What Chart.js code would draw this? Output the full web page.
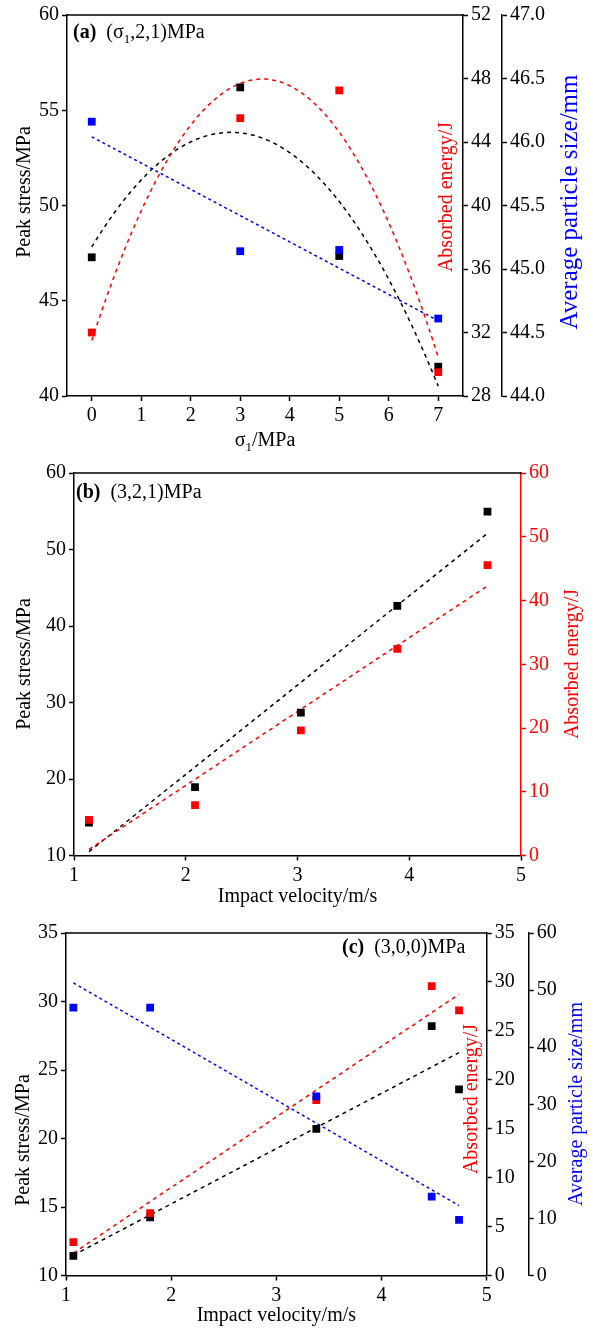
<!DOCTYPE html>
<html>
<head>
<meta charset="utf-8">
<script src="https://cdn.jsdelivr.net/npm/chart.js@4.4.1/dist/chart.umd.min.js"></script>
<style>
  html, body { margin: 0; padding: 0; background: #fff; }
  body { width: 594px; height: 1328px; position: relative; overflow: hidden; }
  canvas { position: absolute; left: 0; }
</style>
</head>
<body>
<canvas id="chartA" width="594" height="456" style="top:0"></canvas>
<canvas id="chartB" width="594" height="473" style="top:440px"></canvas>
<canvas id="chartC" width="594" height="438" style="top:890px"></canvas>
<script>
// (a) sigma1 varies, (sigma1,2,1)MPa
const sigma1 = [0, 3, 5, 7]
const stressA = [47.28, 56.2, 47.35, 41.54]
const energyA = [32.0, 45.5, 47.25, 29.5]
const sizeA = [46.16, 45.14, 45.15, 44.61]
const xTicksA = [0, 1, 2, 3, 4, 5, 6, 7]
const xRangeA = [-0.5, 7.5]
const stressTicksA = [40, 45, 50, 55, 60]
const energyTicksA = [28, 32, 36, 40, 44, 48, 52]
const sizeTicksA = [44.0, 44.5, 45.0, 45.5, 46.0, 46.5, 47.0]

// (b) (3,2,1)MPa
const velocityB = [1.134, 2.083, 3.03, 3.893, 4.70]
const stressB = [14.3, 18.93, 28.67, 42.64, 54.96]
const energyB = [5.6, 7.9, 19.64, 32.4, 45.54]
const xTicksB = [1, 2, 3, 4, 5]
const stressTicksB = [10, 20, 30, 40, 50, 60]
const energyTicksB = [0, 10, 20, 30, 40, 50, 60]

// (c) (3,0,0)MPa
const velocityC = [1.07, 1.80, 3.38, 4.477, 4.737]
const stressC = [11.44, 14.24, 20.71, 28.21, 23.58]
const energyC = [3.41, 6.38, 17.93, 29.58, 27.09]
const sizeC = [46.91, 46.91, 31.37, 13.8, 9.76]
const xTicksC = [1, 2, 3, 4, 5]
const stressTicksC = [10, 15, 20, 25, 30, 35]
const energyTicksC = [0, 5, 10, 15, 20, 25, 30, 35]
const sizeTicksC = [0, 10, 20, 30, 40, 50, 60]

const RED = '#ff0000'
const BLUE = '#0000ff'
const BLACK = '#000000'
const FAMILY = '"Liberation Serif", "Times New Roman", serif'
const UP = -Math.PI / 2

// least squares fits of the measured points
function linFit (xs, ys) {
  const n = xs.length
  const mx = xs.reduce((a, b) => a + b) / n
  const my = ys.reduce((a, b) => a + b) / n
  let sxy = 0
  let sxx = 0
  xs.forEach((x, i) => {
    sxy += (x - mx) * (ys[i] - my)
    sxx += (x - mx) ** 2
  })
  const k = sxy / sxx
  return x => my + k * (x - mx)
}

function quadFit (xs, ys) {
  const s = [0, 0, 0, 0, 0]
  const t = [0, 0, 0]
  xs.forEach((x, i) => {
    for (let p = 0; p < 5; p++) s[p] += x ** p
    for (let p = 0; p < 3; p++) t[p] += ys[i] * x ** p
  })
  const m = [
    [s[0], s[1], s[2], t[0]],
    [s[1], s[2], s[3], t[1]],
    [s[2], s[3], s[4], t[2]]
  ]
  for (let i = 0; i < 3; i++) {
    for (let j = i + 1; j < 3; j++) {
      const f = m[j][i] / m[i][i]
      for (let k = i; k < 4; k++) m[j][k] -= f * m[i][k]
    }
  }
  const c = [0, 0, 0]
  for (let i = 2; i >= 0; i--) {
    let v = m[i][3]
    for (let k = i + 1; k < 3; k++) v -= m[i][k] * c[k]
    c[i] = v / m[i][i]
  }
  return x => c[0] + c[1] * x + c[2] * x * x
}

function trend (f, xs, n) {
  const x0 = Math.min(...xs)
  const x1 = Math.max(...xs)
  const pts = []
  for (let i = 0; i <= n; i++) {
    const x = x0 + (x1 - x0) * i / n
    pts.push({ x, y: f(x) })
  }
  return pts
}

const toPts = (xs, ys) => xs.map((x, i) => ({ x, y: ys[i] }))

function points (xs, ys, color, axis, order) {
  return {
    data: toPts(xs, ys),
    yAxisID: axis,
    backgroundColor: color,
    borderWidth: 0,
    pointStyle: 'rect',
    pointRadius: 5.5,
    order
  }
}

function fitLine (pts, color, axis, dash) {
  return {
    data: pts,
    yAxisID: axis,
    showLine: true,
    borderColor: color,
    borderWidth: 1.5,
    borderDash: dash,
    pointRadius: 0,
    order: 5
  }
}

function axis (o) {
  const color = o.color || BLACK
  return {
    type: 'linear',
    position: o.position,
    min: o.ticks[0],
    max: o.ticks[o.ticks.length - 1],
    afterBuildTicks: s => { s.ticks = o.ticks.map(v => ({ value: v })) },
    afterFit: s => {
      if (o.width !== undefined) s.width = o.width
      if (o.height !== undefined) s.height = o.height
    },
    grid: { display: true, drawOnChartArea: false, drawTicks: true, tickLength: 5, tickWidth: 1.5, tickColor: color },
    border: { display: true, color, width: 1.5 },
    ticks: {
      color,
      padding: 3,
      font: { family: FAMILY, size: 20 },
      callback: o.fmt || (v => String(v))
    },
    title: {
      display: !!o.title,
      text: o.title,
      color: BLACK,
      font: { family: FAMILY, size: 20 },
      padding: o.titlePad || { top: 4, bottom: 4 }
    }
  }
}

function xAxis (o) {
  const a = axis(Object.assign({ position: 'bottom' }, o))
  if (o.range) {
    a.min = o.range[0]
    a.max = o.range[1]
  }
  return a
}

function drawNote (ctx, n) {
  ctx.save()
  ctx.translate(n.x, n.y)
  if (n.rot) ctx.rotate(n.rot)
  ctx.fillStyle = n.color || BLACK
  ctx.textBaseline = n.baseline || 'alphabetic'
  const fontOf = p => (p.bold ? 'bold ' : '') + (p.sub ? 13 : (n.size || 20)) + 'px ' + FAMILY
  let w = 0
  n.parts.forEach(p => { ctx.font = fontOf(p); w += ctx.measureText(p.t).width })
  let x = n.align === 'center' ? -w / 2 : 0
  n.parts.forEach(p => {
    ctx.font = fontOf(p)
    ctx.fillText(p.t, x, p.sub ? 5 : 0)
    x += ctx.measureText(p.t).width
  })
  ctx.restore()
}

// vertical axis title reading bottom to top
const vTitle = (text, x, y, color, size) =>
  ({ x, y, rot: UP, align: 'center', baseline: 'middle', color, size, parts: [{ t: text }] })

const frame = {
  id: 'frame',
  afterDraw (chart, args, opts) {
    const { ctx, chartArea: a } = chart
    ctx.save()
    ctx.strokeStyle = BLACK
    ctx.lineWidth = 1.5
    ctx.beginPath()
    ctx.moveTo(a.left - 0.75, a.top)
    ctx.lineTo(a.right + 0.75, a.top)
    ctx.stroke()
    ctx.restore()
    ;(opts.notes || []).forEach(n => drawNote(ctx, n))
  }
}

function makeChart (id, datasets, scales, padTop, notes) {
  return new Chart(document.getElementById(id), {
    type: 'scatter',
    data: { datasets },
    options: {
      responsive: false,
      animation: false,
      layout: { padding: { top: padTop, bottom: 0, left: 0, right: 0 } },
      plugins: { legend: { display: false }, tooltip: { enabled: false }, frame: { notes } },
      scales
    },
    plugins: [frame]
  })
}

// (a)
makeChart('chartA', [
  points(sigma1, sizeA, BLUE, 'y2', 0),
  points(sigma1, energyA, RED, 'y1', 1),
  points(sigma1, stressA, BLACK, 'y', 2),
  fitLine(trend(linFit(sigma1, sizeA), sigma1, 2), BLUE, 'y2', [3, 3]),
  fitLine(trend(quadFit(sigma1, energyA), sigma1, 60), RED, 'y1', [4, 4]),
  fitLine(trend(quadFit(sigma1, stressA), sigma1, 60), BLACK, 'y', [4, 4])
], {
  x: xAxis({ ticks: xTicksA, range: xRangeA, height: 60 }),
  y: axis({ position: 'left', ticks: stressTicksA, width: 67 }),
  y1: axis({ position: 'right', ticks: energyTicksA, width: 39 }),
  y2: axis({ position: 'right', ticks: sizeTicksA, width: 92, fmt: v => v.toFixed(1) })
}, 14, [
  { x: 73, y: 38, parts: [{ t: '(a)', bold: true }, { t: '  (σ' }, { t: '1', sub: true }, { t: ',2,1)MPa' }] },
  { x: 265, y: 446, align: 'center', parts: [{ t: 'σ' }, { t: '1', sub: true }, { t: '/MPa' }] },
  vTitle('Peak stress/MPa', 25, 192),
  vTitle('Absorbed energy/J', 447, 197, RED),
  vTitle('Average particle size/mm', 570, 202, BLUE, 25)
])

// (b)
makeChart('chartB', [
  points(velocityB, energyB, RED, 'y1', 1),
  points(velocityB, stressB, BLACK, 'y', 2),
  fitLine(trend(linFit(velocityB, energyB), velocityB, 2), RED, 'y1', [4, 4]),
  fitLine(trend(linFit(velocityB, stressB), velocityB, 2), BLACK, 'y', [4, 4])
], {
  x: xAxis({ ticks: xTicksB, height: 57.5, title: 'Impact velocity/m/s', titlePad: { top: 0, bottom: 4 } }),
  y: axis({ position: 'left', ticks: stressTicksB, width: 74 }),
  y1: axis({ position: 'right', ticks: energyTicksB, width: 73, color: RED })
}, 33, [
  { x: 76, y: 58, parts: [{ t: '(b)', bold: true }, { t: '  (3,2,1)MPa' }] },
  vTitle('Peak stress/MPa', 25, 224),
  vTitle('Absorbed energy/J', 573, 224, RED)
])

// (c)
makeChart('chartC', [
  points(velocityC, sizeC, BLUE, 'y2', 0),
  points(velocityC, energyC, RED, 'y1', 1),
  points(velocityC, stressC, BLACK, 'y', 2),
  fitLine(trend(linFit(velocityC, sizeC), velocityC, 2), BLUE, 'y2', [3, 3]),
  fitLine(trend(linFit(velocityC, energyC), velocityC, 2), RED, 'y1', [4, 4]),
  fitLine(trend(linFit(velocityC, stressC), velocityC, 2), BLACK, 'y', [4, 4])
], {
  x: xAxis({ ticks: xTicksC, height: 52.5, title: 'Impact velocity/m/s', titlePad: { top: 0, bottom: 0 } }),
  y: axis({ position: 'left', ticks: stressTicksC, width: 66 }),
  y1: axis({ position: 'right', ticks: energyTicksC, width: 42 }),
  y2: axis({ position: 'right', ticks: sizeTicksC, width: 65.3 })
}, 43, [
  { x: 342, y: 62.5, parts: [{ t: '(c)', bold: true }, { t: '  (3,0,0)MPa' }] },
  vTitle('Peak stress/MPa', 23.3, 250),
  vTitle('Absorbed energy/J', 472, 209, RED),
  vTitle('Average particle size/mm', 577, 214, BLUE)
])
</script>
</body>
</html>
